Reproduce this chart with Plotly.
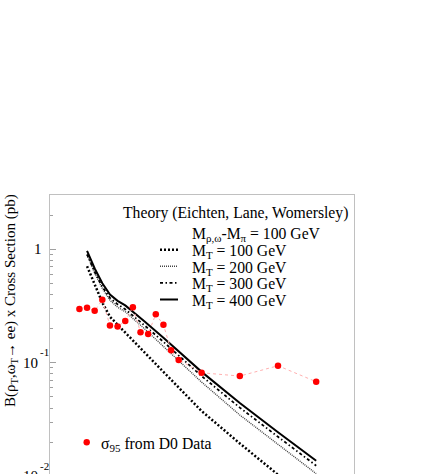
import math
import plotly.graph_objects as go

# ---------------- data ----------------
d0_mass = [190, 200, 210, 220, 230, 240, 250, 260, 270, 280, 290, 300, 310, 320, 350, 400, 450, 500]
d0_sigma95 = [0.298, 0.305, 0.287, 0.358, 0.213, 0.209, 0.233, 0.309, 0.186, 0.179,
              0.268, 0.216, 0.129, 0.106, 0.0817, 0.0764, 0.0942, 0.0681]

theory_mass = [200, 210, 220, 230, 240, 250, 275, 300, 350, 400, 450, 500]
theory_mt100 = [0.708, 0.490, 0.339, 0.254, 0.216, 0.184, 0.123, 0.0832, 0.0376, 0.0195, 0.01035, 0.0055]
theory_mt200 = [0.891, 0.617, 0.452, 0.355, 0.309, 0.282, 0.200, 0.140, 0.0676, 0.0347, 0.0191, 0.01057]
theory_mt300 = [0.902, 0.631, 0.468, 0.372, 0.327, 0.296, 0.214, 0.153, 0.0764, 0.0403, 0.0223, 0.01242]
theory_mt400 = [0.966, 0.676, 0.501, 0.398, 0.351, 0.320, 0.232, 0.166, 0.0832, 0.0442, 0.0245, 0.01374]

theory_labels = ["M<sub>T</sub> = 100 GeV", "M<sub>T</sub> = 200 GeV",
                 "M<sub>T</sub> = 300 GeV", "M<sub>T</sub> = 400 GeV"]
legend_title = "Theory (Eichten, Lane, Womersley)"
legend_subtitle = "M<sub>ρ,ω</sub>-M<sub>π</sub> = 100 GeV"
data_label = "σ<sub>95</sub> from D0 Data"
y_title = "B(ρ<sub>T</sub>,ω<sub>T</sub>→ ee) x Cross Section (pb)"

ytick_vals = [1, 0.1, 0.01]
ytick_base = ["1", "10", "10"]
ytick_exp = ["", "-1", "-2"]

# ---------------- layout geometry (screen pixels) ----------------
W, H = 425, 474
L, R, T, B = 50, 354, 195, 474
FONT = "Liberation Serif"
Y_RANGE = [math.log10(0.01) + 0.021, math.log10(3.0)]
X_RANGE = [151.5, 549.5]


def px(xp):
    return (xp - L) / (R - L)


def py(yp):
    return (B - yp) / (B - T)


def py_val(v):
    return (math.log10(v) - Y_RANGE[0]) / (Y_RANGE[1] - Y_RANGE[0])


styles = [
    dict(color="black", width=2.5, dash="2px,2px"),
    dict(color="#444444", width=1.4, dash="1px,1px"),
    dict(color="black", width=1.8, dash="3px,2.5px,1.5px,2.5px"),
    dict(color="black", width=2, dash="solid"),
]
theory_series = [theory_mt100, theory_mt200, theory_mt300, theory_mt400]

fig = go.Figure()

for ys, st, lab in zip(theory_series, styles, theory_labels):
    fig.add_trace(go.Scatter(x=theory_mass, y=ys, mode="lines", line=st,
                             name=lab, showlegend=False))

fig.add_trace(go.Scatter(x=d0_mass, y=d0_sigma95, mode="lines+markers",
                         line=dict(color="#ffb0b0", width=1, dash="3px,3px"),
                         marker=dict(color="#ff0000", size=6.5),
                         showlegend=False))

annotations = []
shapes = []

# y tick labels
for v, base, ex in zip(ytick_vals, ytick_base, ytick_exp):
    yv = py_val(v)
    annotations.append(dict(x=px(31.5 if ex == "" else 20.5), xref="paper", y=yv, yref="paper",
                            text=base, showarrow=False, xanchor="left", yanchor="middle",
                            font=dict(family=FONT, size=15, color="black")))
    if ex:
        annotations.append(dict(x=px(37.5), xref="paper", y=yv, yref="paper", yshift=10.5,
                                text=ex, showarrow=False, xanchor="left", yanchor="middle",
                                font=dict(family=FONT, size=11, color="black")))

# y title
annotations.append(dict(x=px(11), xref="paper", y=py(301), yref="paper", text=y_title,
                        textangle=-90, showarrow=False, xanchor="center", yanchor="middle",
                        font=dict(family=FONT, size=15, color="black")))

# legend
annotations.append(dict(x=px(121), xref="paper", y=py(213), yref="paper", text=legend_title,
                        showarrow=False, xanchor="left", yanchor="middle",
                        font=dict(family=FONT, size=15.7, color="black")))
annotations.append(dict(x=px(190), xref="paper", y=py(234), yref="paper", text=legend_subtitle,
                        showarrow=False, xanchor="left", yanchor="middle",
                        font=dict(family=FONT, size=15.7, color="black")))
for i, (lab, st) in enumerate(zip(theory_labels, styles)):
    yc = 249.7 + i * 16.6
    annotations.append(dict(x=px(190), xref="paper", y=py(yc + 2), yref="paper", text=lab,
                            showarrow=False, xanchor="left", yanchor="middle",
                            font=dict(family=FONT, size=15.7, color="black")))
    shapes.append(dict(type="line", xref="paper", yref="paper", x0=px(160), x1=px(178),
                       y0=py(yc), y1=py(yc), line=st))

shapes.append(dict(type="circle", xref="paper", yref="paper", xsizemode="pixel", ysizemode="pixel",
                   xanchor=px(86.7), yanchor=py(442.3), x0=-3.2, x1=3.2, y0=-3.2, y1=3.2,
                   fillcolor="#ff0000", line=dict(width=0)))
annotations.append(dict(x=px(99), xref="paper", y=py(444), yref="paper", text=data_label,
                        showarrow=False, xanchor="left", yanchor="middle",
                        font=dict(family=FONT, size=15.7, color="black")))

fig.update_layout(
    width=W, height=H,
    margin=dict(l=L, r=W - R, t=T, b=H - B, pad=0),
    paper_bgcolor="white", plot_bgcolor="white",
    annotations=annotations, shapes=shapes,
    showlegend=False,
    xaxis=dict(range=X_RANGE, side="top", showline=True, linecolor="#c0c0c0",
               linewidth=1, ticks="", showticklabels=False, showgrid=False, zeroline=False),
    yaxis=dict(type="log", range=Y_RANGE,
               showline=True, mirror=True, linecolor="#c0c0c0", linewidth=1,
               ticks="inside", ticklen=6, tickcolor="#a0a0a0", dtick=1,
               showticklabels=False, showgrid=False, zeroline=False,
               minor=dict(ticks="inside", ticklen=3, tickcolor="#a0a0a0", dtick="D1", showgrid=False)),
)

# remove the default 8px body margin so the figure sits at the page origin
fig.write_html("out.html",
               config={"displayModeBar": False},
               post_script="document.body.style.margin='0px';document.body.style.overflow='hidden';")
